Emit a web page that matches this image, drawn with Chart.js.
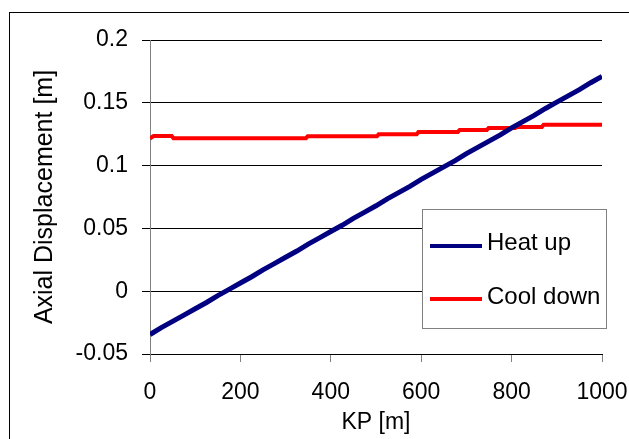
<!DOCTYPE html>
<html>
<head>
<meta charset="utf-8">
<script src="https://cdn.jsdelivr.net/npm/chart.js@4/dist/chart.umd.min.js"></script>
<style>
  html, body { margin: 0; padding: 0; background: #fff; overflow: hidden; }
  canvas { display: block; }
</style>
</head>
<body>
<canvas id="chart" width="629" height="439"></canvas>
<script>
// Heat up curve, every 25 m
const kpHeat = [0, 25, 50, 75, 100, 125, 150, 175, 200, 225, 250, 275, 300, 325, 350, 375, 400,
    425, 450, 475, 500, 525, 550, 575, 600, 625, 650, 675, 700, 725, 750, 775, 800, 825, 850,
    875, 900, 925, 950, 975, 1000];
const heatUp = [-0.0345, -0.0290, -0.0240, -0.0190, -0.0140, -0.0090, -0.0035, 0.0015, 0.0065,
    0.0115, 0.0170, 0.0220, 0.0270, 0.0320, 0.0375, 0.0425, 0.0475, 0.0525, 0.0580, 0.0630,
    0.0680, 0.0735, 0.0785, 0.0835, 0.0890, 0.0940, 0.0990, 0.1040, 0.1095, 0.1145, 0.1195,
    0.1245, 0.1300, 0.1350, 0.1400, 0.1455, 0.1505, 0.1555, 0.1605, 0.1660, 0.1710];

// Cool down curve, small steps
const kpCool = [0, 8, 48, 52, 345, 349, 502, 506, 590, 594, 681, 685, 745, 749, 808, 812, 867, 871, 1000];
const coolDown = [0.1215, 0.1236, 0.1236, 0.1218, 0.1218, 0.1233, 0.1233, 0.1249, 0.1249, 0.1268,
    0.1268, 0.1283, 0.1283, 0.1299, 0.1299, 0.1307, 0.1307, 0.1326, 0.1326];

const seriesNames = ['Heat up', 'Cool down'];
const xTicks = [0, 200, 400, 600, 800, 1000];
const yTicks = [-0.05, 0, 0.05, 0.1, 0.15, 0.2];

const FONT = "'Liberation Sans', Arial, sans-serif";

function toPoints(xs, ys) {
    return xs.map((x, i) => ({ x: x, y: ys[i] }));
}

// outer frame of the whole chart
const framePlugin = {
    id: 'frame',
    beforeDraw(chart) {
        const c = chart.ctx;
        c.save();
        c.fillStyle = '#fff';
        c.fillRect(0, 0, chart.width, chart.height);
        c.strokeStyle = '#000';
        c.lineWidth = 1;
        c.strokeRect(9.5, 12.5, 700, 600);
        c.restore();
    }
};

// legend box inside the plot, like Excel
const legendPlugin = {
    id: 'boxLegend',
    afterDraw(chart) {
        const c = chart.ctx;
        const box = { left: 422.5, top: 209.5, w: 184, h: 119 };
        c.save();
        c.fillStyle = '#fff';
        c.fillRect(box.left, box.top, box.w, box.h);
        c.strokeStyle = '#808080';
        c.lineWidth = 1;
        c.strokeRect(box.left, box.top, box.w, box.h);
        const rows = [{ line: 246, text: 243 }, { line: 299, text: 297 }];
        chart.data.datasets.forEach((ds, i) => {
            c.strokeStyle = ds.borderColor;
            c.lineWidth = 4;
            c.beginPath();
            c.moveTo(430, rows[i].line);
            c.lineTo(482, rows[i].line);
            c.stroke();
            c.fillStyle = '#000';
            c.font = '24px ' + FONT;
            c.textBaseline = 'middle';
            c.textAlign = 'left';
            c.fillText(ds.label, 487, rows[i].text);
        });
        c.restore();
    }
};

new Chart(document.getElementById('chart'), {
    type: 'line',
    data: {
        datasets: [{
            label: seriesNames[0],
            data: toPoints(kpHeat, heatUp),
            borderColor: '#000080',
            borderWidth: 5,
            pointRadius: 0,
            tension: 0
        }, {
            label: seriesNames[1],
            data: toPoints(kpCool, coolDown),
            borderColor: '#ff0000',
            borderWidth: 4,
            pointRadius: 0,
            tension: 0
        }]
    },
    options: {
        responsive: false,
        animation: false,
        devicePixelRatio: 1,
        layout: { padding: { left: 0, top: 40, right: 27, bottom: 0 } },
        plugins: {
            legend: { display: false },
            tooltip: { enabled: false }
        },
        scales: {
            x: {
                type: 'linear',
                min: 0,
                max: 1000,
                afterFit(scale) {
                    scale.height = 85;
                    scale.paddingLeft = 0;
                    scale.paddingRight = 0;
                },
                afterBuildTicks(scale) { scale.ticks = xTicks.map(v => ({ value: v })); },
                grid: {
                    drawOnChartArea: false,
                    drawTicks: true,
                    tickLength: 8,
                    color: '#808080'
                },
                border: { color: '#000', width: 1 },
                ticks: {
                    color: '#000',
                    padding: 17,
                    maxRotation: 0,
                    font: { family: FONT, size: 23 },
                    callback: v => String(v)
                },
                title: {
                    display: true,
                    text: 'KP [m]',
                    color: '#000',
                    font: { family: FONT, size: 23 },
                    padding: { top: 0, bottom: 3 }
                }
            },
            y: {
                min: -0.05,
                max: 0.2,
                afterFit(scale) {
                    scale.width = 150;
                    scale.paddingTop = 0;
                    scale.paddingBottom = 0;
                },
                afterBuildTicks(scale) { scale.ticks = yTicks.map(v => ({ value: v })); },
                grid: {
                    color: '#000',
                    lineWidth: 1,
                    drawTicks: true,
                    tickLength: 8
                },
                border: { color: '#808080', width: 1 },
                ticks: {
                    color: '#000',
                    padding: 14,
                    font: { family: FONT, size: 23 },
                    callback: v => String(Number(v.toFixed(2)))
                },
                title: {
                    display: true,
                    text: 'Axial Displacement [m]',
                    color: '#000',
                    font: { family: FONT, size: 25 },
                    padding: { top: 30, bottom: 0 }
                }
            }
        }
    },
    plugins: [framePlugin, legendPlugin]
});
</script>
</body>
</html>
